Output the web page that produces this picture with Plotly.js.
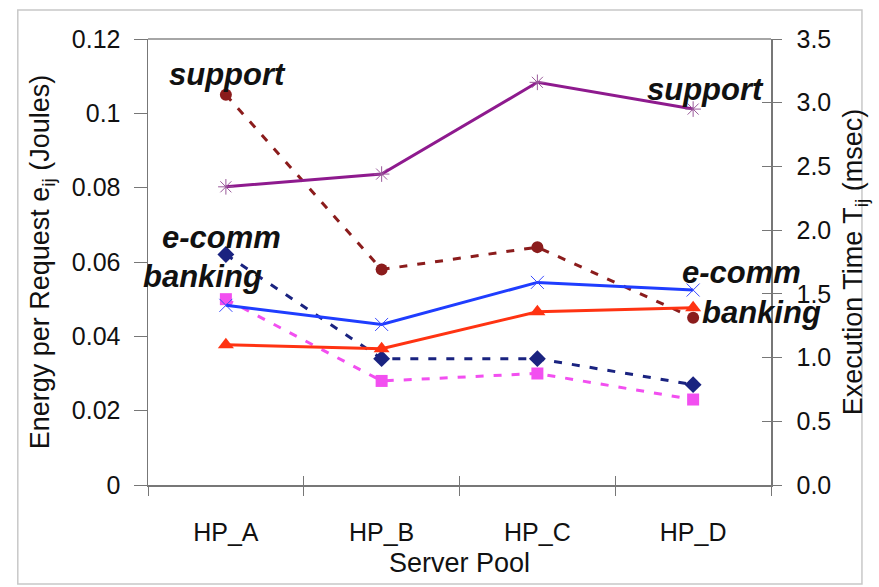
<!DOCTYPE html>
<html>
<head>
<meta charset="utf-8">
<script src="https://cdn.plot.ly/plotly-3.0.1.min.js"></script>
<style>html,body{margin:0;padding:0;background:#fff;}#chart{width:879px;height:587px;}</style>
</head>
<body>
<div id="chart"></div>
<script>
// Categories
const pools = ["HP_A", "HP_B", "HP_C", "HP_D"];

// Energy per request e_ij (Joules) - left axis, dashed lines
const energySupport = [0.105, 0.058, 0.064, 0.045];
const energyEcomm   = [0.062, 0.034, 0.034, 0.027];
const energyBanking = [0.050, 0.028, 0.030, 0.023];

// Execution time T_ij (msec) - right axis, solid lines
const timeSupport = [2.34, 2.44, 3.16, 2.95];
const timeEcomm   = [1.41, 1.26, 1.59, 1.53];
const timeBanking = [1.10, 1.07, 1.36, 1.39];

// Axis tick values
const leftTicks  = [0, 0.02, 0.04, 0.06, 0.08, 0.1, 0.12];
const rightTicks = [0, 0.5, 1.0, 1.5, 2.0, 2.5, 3.0, 3.5];

const FONT = "Liberation Sans, Arial, sans-serif";
const dashPat = "8px,10px";
const TICK = 25, TITLE = 27;

const traces = [
  {x: pools, y: energySupport, yaxis: "y", mode: "lines+markers", name: "support e",
   line: {color: "#8b1c1c", width: 3, dash: dashPat},
   marker: {symbol: "circle", size: 12, color: "#8b1c1c"}},
  {x: pools, y: energyEcomm, yaxis: "y", mode: "lines+markers", name: "e-comm e",
   line: {color: "#1a2380", width: 3, dash: dashPat},
   marker: {symbol: "diamond", size: 13, color: "#1a2380"}},
  {x: pools, y: energyBanking, yaxis: "y", mode: "lines+markers", name: "banking e",
   line: {color: "#f24ff0", width: 3, dash: dashPat},
   marker: {symbol: "square", size: 12, color: "#f24ff0"}},
  {x: pools, y: timeSupport, yaxis: "y2", mode: "lines+markers", name: "support T",
   line: {color: "#8e1a8e", width: 3},
   marker: {symbol: "asterisk-open", size: 13, color: "#9a5a9a", line: {color: "#9a5a9a", width: 1}}},
  {x: pools, y: timeEcomm, yaxis: "y2", mode: "lines+markers", name: "e-comm T",
   line: {color: "#1f3dff", width: 3},
   marker: {symbol: "x-thin-open", size: 13, color: "#3a4aff", line: {color: "#3a4aff", width: 1}}},
  {x: pools, y: timeBanking, yaxis: "y2", mode: "lines+markers", name: "banking T",
   line: {color: "#ff3312", width: 3},
   marker: {symbol: "triangle-up", size: 14, color: "#ff3312"}}
];

const labelFont = {family: FONT, size: 31, color: "#111"};
function lab(text, x, y) {
  return {text: "<b><i>" + text + "</i></b>", x: x, y: y, xref: "x", yref: "y",
          showarrow: false, font: labelFont, xanchor: "center", yanchor: "middle"};
}

const layout = {
  width: 879, height: 587,
  margin: {l: 148, r: 108, t: 39, b: 102},
  paper_bgcolor: "#fff", plot_bgcolor: "#fff",
  showlegend: false,
  font: {family: FONT, size: TICK, color: "#111"},
  xaxis: {
    type: "category", range: [-0.5, 3.5],
    showline: true, linecolor: "#777", linewidth: 1.5,
    ticks: "outside", ticklen: 9, tickcolor: "#777", tickson: "boundaries",
    ticklabelstandoff: 24,
    showgrid: false, zeroline: false,
    tickfont: {family: FONT, size: TICK, color: "#111"},
    title: {text: "Server Pool", font: {family: FONT, size: TITLE, color: "#111"}, standoff: 8}
  },
  xaxis2: {
    type: "category", range: [-0.5, 3.5], overlaying: "x", anchor: "y", side: "bottom",
    showline: false, ticks: "inside", ticklen: 9, tickcolor: "#777", tickson: "boundaries",
    showticklabels: false, showgrid: false, zeroline: false
  },
  yaxis: {
    range: [0, 0.12], tickvals: leftTicks,
    showline: true, linecolor: "#777", linewidth: 1.5,
    ticks: "outside", ticklen: 13, tickcolor: "#777",
    ticklabelstandoff: 8,
    showgrid: false, zeroline: false,
    tickfont: {family: FONT, size: TICK, color: "#111"},
    title: {text: "Energy per Request e<sub>ij</sub> (Joules)", font: {family: FONT, size: TITLE, color: "#111"}, standoff: 14}
  },
  yaxis2: {
    range: [0, 3.5], tickvals: rightTicks, tickformat: ".1f",
    overlaying: "y", side: "right",
    showline: true, linecolor: "#777", linewidth: 1.5,
    ticks: "outside", ticklen: 9, tickcolor: "#777",
    ticklabelstandoff: 10,
    showgrid: false, zeroline: false,
    tickfont: {family: FONT, size: TICK, color: "#111"},
    title: {text: "Execution Time T<sub>ij</sub> (msec)", font: {family: FONT, size: TITLE, color: "#111"}, standoff: 13}
  },
  yaxis3: {
    range: [0, 3.5], tickvals: rightTicks, showticklabels: false,
    overlaying: "y", side: "right", anchor: "x",
    showline: false, ticks: "inside", ticklen: 9, tickcolor: "#777",
    showgrid: false, zeroline: false
  },
  shapes: [
    {type: "line", xref: "paper", yref: "paper", x0: 0, x1: 1, y0: 1, y1: 1,
     line: {color: "#888", width: 1.5}},
    {type: "rect", xref: "paper", yref: "paper", x0: -0.209, x1: 1.146, y0: -0.222, y1: 1.065,
     line: {color: "#c8c8c8", width: 1.5}, layer: "below"}
  ],
  annotations: [
    lab("support", 0.01, 0.1105),
    lab("support", 3.08, 0.1065),
    lab("e-comm", -0.03, 0.0667),
    lab("e-comm", 3.31, 0.0573),
    lab("banking", -0.15, 0.0562),
    lab("banking", 3.44, 0.0463)
  ]
};

// invisible traces that activate the helper axes (cross ticks)
traces.push({x: pools, y: timeSupport, yaxis: "y3", mode: "none", hoverinfo: "skip", showlegend: false});
traces.push({x: pools, y: energySupport, xaxis: "x2", yaxis: "y", mode: "none", hoverinfo: "skip", showlegend: false});

Plotly.newPlot("chart", traces, layout, {displayModeBar: false, staticPlot: true});
</script>
</body>
</html>
